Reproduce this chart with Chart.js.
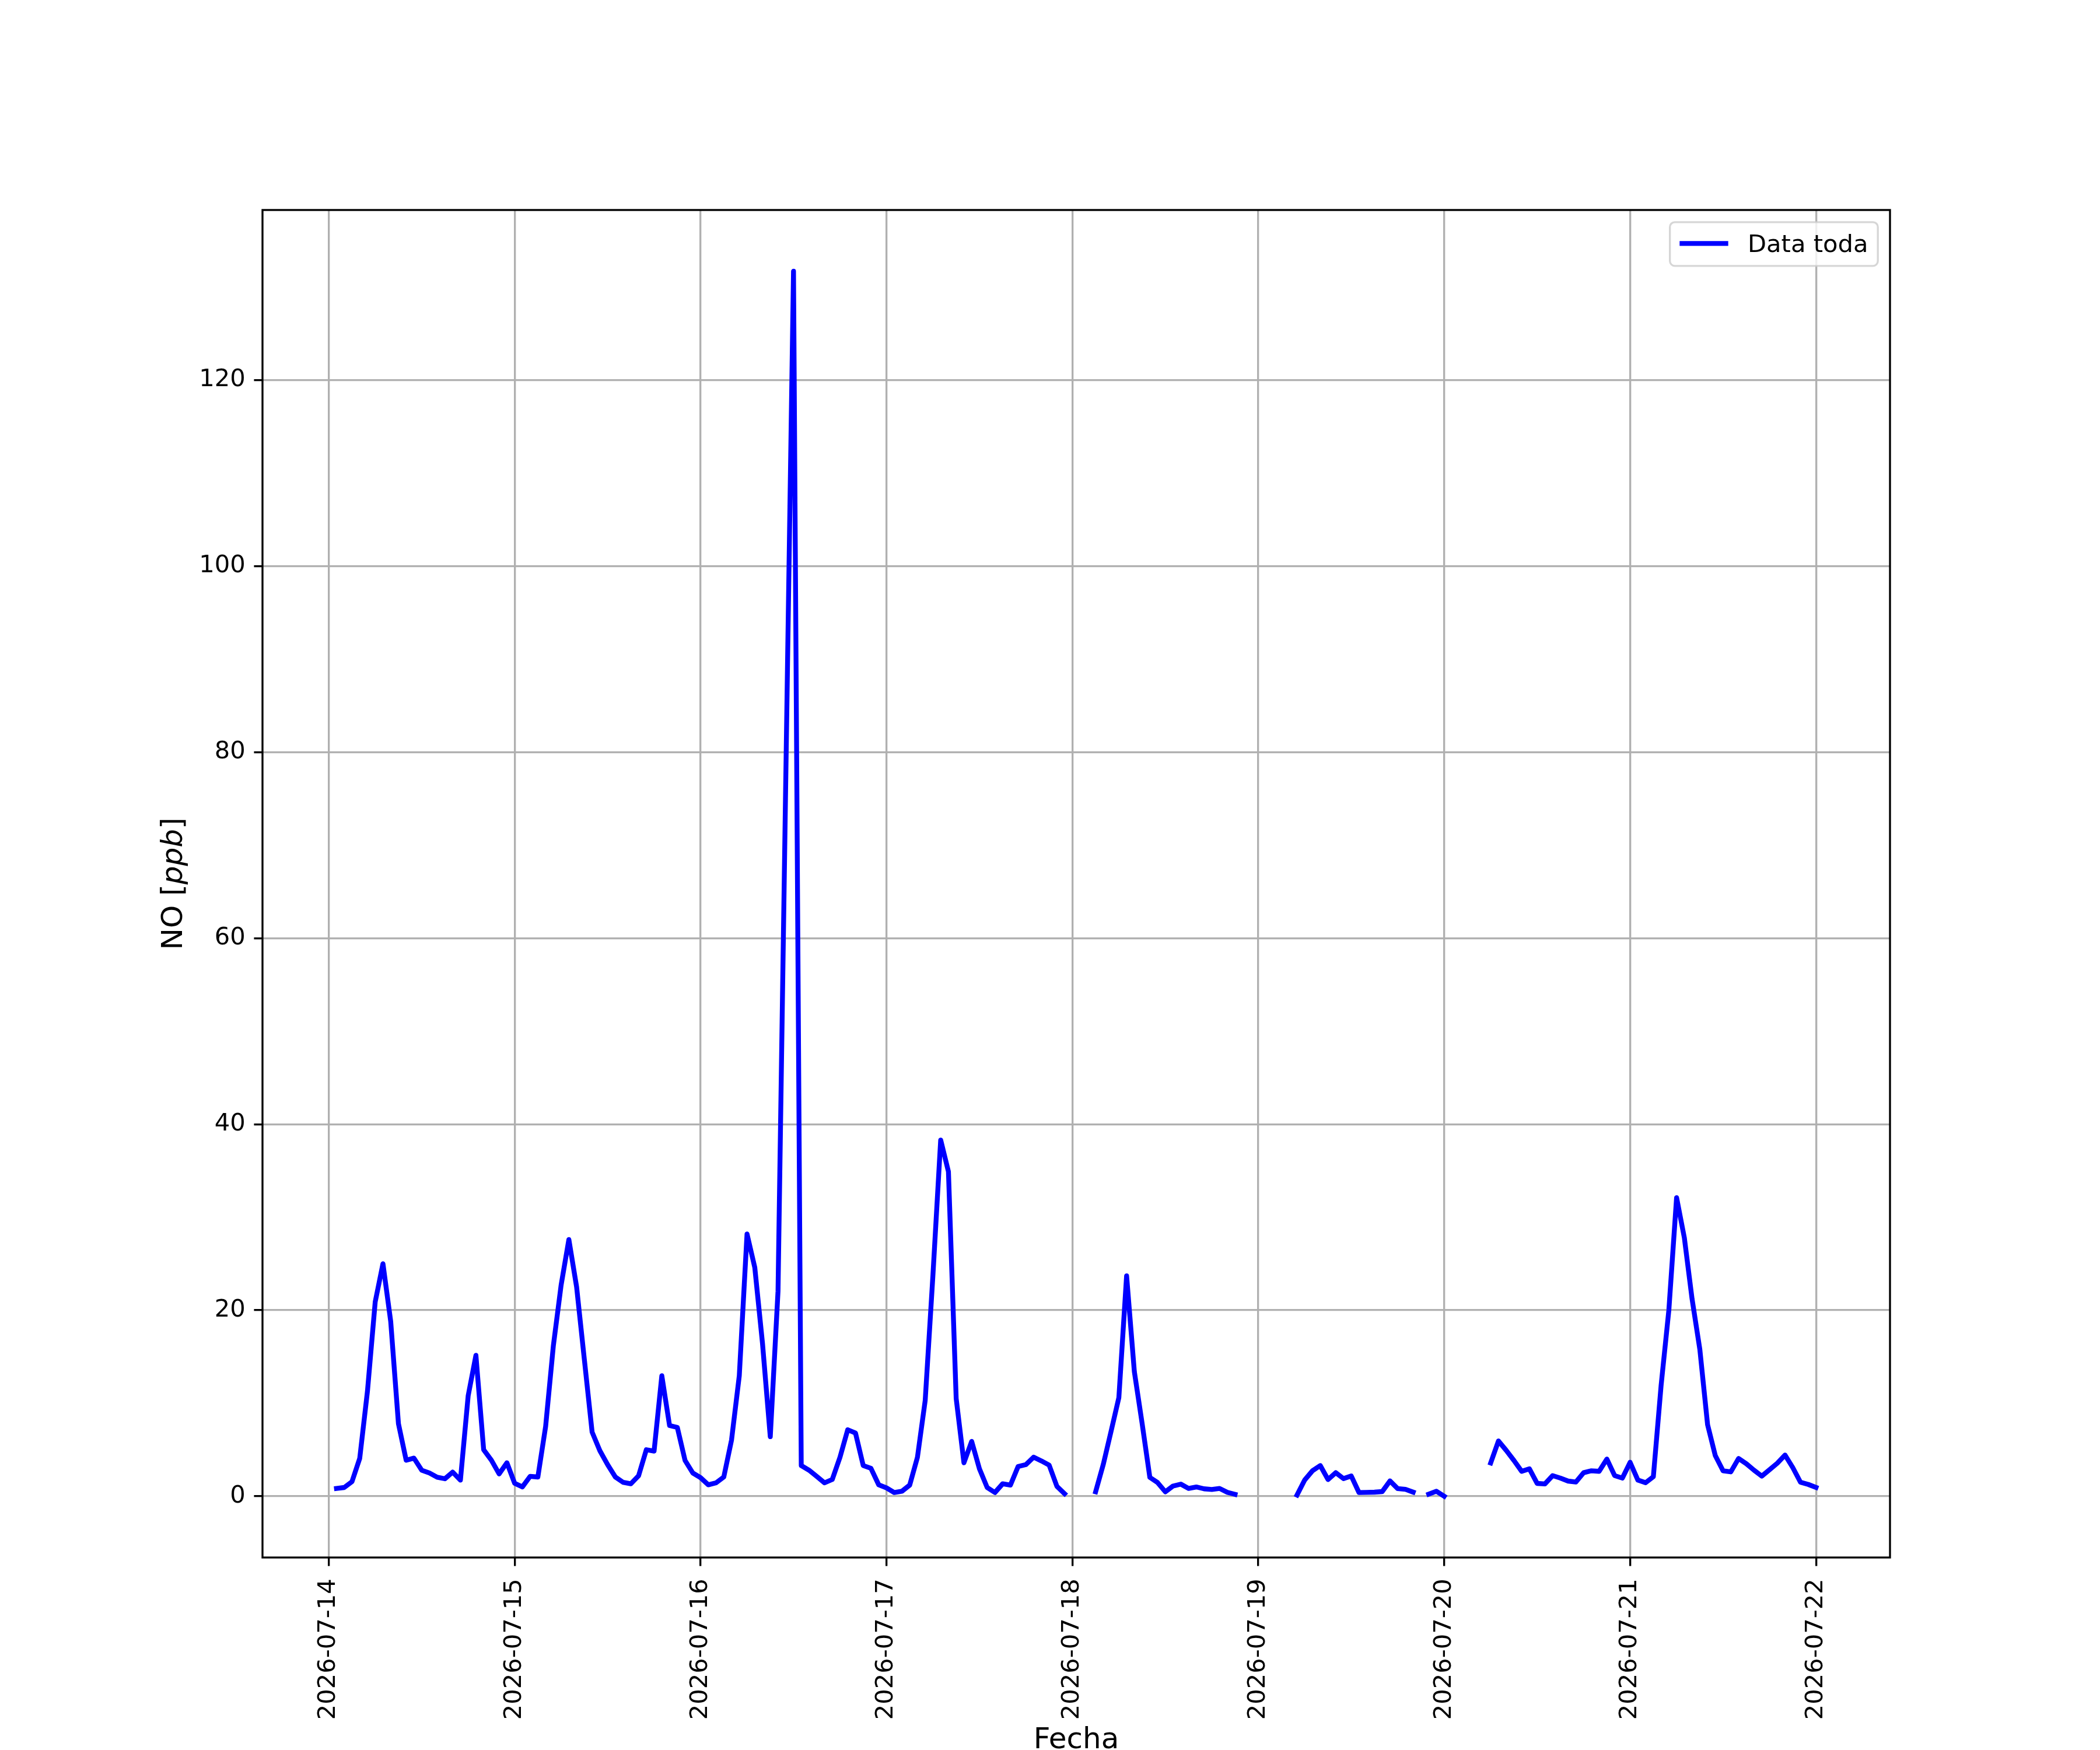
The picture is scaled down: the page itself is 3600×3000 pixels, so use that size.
<!DOCTYPE html>
<html>
<head>
<meta charset="utf-8">
<script src="https://cdn.jsdelivr.net/npm/chart.js@4.4.1/dist/chart.umd.min.js"></script>
<style>
  html, body { margin: 0; padding: 0; background: #ffffff; }
  canvas { display: block; }
</style>
</head>
<body>
<canvas id="chart" width="3600" height="3000" style="width:3600px;height:3000px"></canvas>
<script>
// ---------------- data ----------------
const dayLabels = ['2026-07-14', '2026-07-15', '2026-07-16', '2026-07-17', '2026-07-18',
                   '2026-07-19', '2026-07-20', '2026-07-21', '2026-07-22'];
const hoursPerDay = 24;
const firstHour = 1;            // first sample: 2026-07-14 01:00, hourly afterwards

// NO [ppb], hourly from 2026-07-14 01:00 to 2026-07-22 00:00 (null = missing)
const noDay14 = [0.84, 0.94, 1.57, 4.07, 11.3, 20.9, 25.0, 18.8, 7.8, 3.87, 4.1, 2.8,
                 2.5, 2.05, 1.88, 2.6, 1.73, 10.8, 15.15, 5.0, 3.87, 2.4, 3.6];
const noDay15 = [1.4, 1.0, 2.14, 2.07, 7.5, 16.2, 22.7, 27.6, 22.5, 14.7, 6.9, 4.9,
                 3.4, 2.07, 1.5, 1.34, 2.2, 5.0, 4.85, 12.95, 7.6, 7.4, 3.85, 2.5];
const noDay16 = [2.0, 1.23, 1.44, 2.07, 6.05, 12.95, 28.2, 24.6, 16.4, 6.4, 22.05, 77.0,
                 131.7, 3.3, 2.8, 2.13, 1.44, 1.8, 4.2, 7.15, 6.8, 3.3, 3.0, 1.23];
const noDay17 = [0.9, 0.4, 0.54, 1.2, 4.2, 10.3, 23.8, 38.3, 34.9, 10.5, 3.6, 5.9,
                 2.95, 0.94, 0.4, 1.34, 1.2, 3.2, 3.4, 4.2, 3.8, 3.35, 1.07, 0.27];
const noDay18 = [null, null, null, 0.48, 3.46, 7.0, 10.6, 23.7, 13.4, 7.85, 2.03, 1.47,
                 0.48, 1.1, 1.3, 0.84, 1.0, 0.8, 0.73, 0.84, 0.42, 0.2, null, null];
const noDay19 = [null, null, null, null, null, 0.13, 1.76, 2.74, 3.3, 1.8, 2.53, 1.9,
                 2.18, 0.4, 0.42, 0.44, 0.5, 1.65, 0.82, 0.75, 0.44, null, 0.23, 0.54];
const noDay20 = [0.0, null, null, null, null, null, 3.58, 5.94, 4.94, 3.85, 2.68, 2.95,
                 1.38, 1.32, 2.22, 1.95, 1.63, 1.53, 2.53, 2.74, 2.68, 4.0, 2.22, 1.95];
const noDay21 = [3.65, 1.74, 1.46, 2.1, 11.9, 20.0, 32.1, 27.8, 21.2, 15.8, 7.7, 4.36,
                 2.73, 2.62, 4.06, 3.5, 2.8, 2.16, 2.85, 3.55, 4.43, 3.08, 1.5, 1.27];
const noDay22 = [0.95];

const noPpb = [].concat(noDay14, noDay15, noDay16, noDay17, noDay18,
                        noDay19, noDay20, noDay21, noDay22);

const seriesLabel = 'Data toda';
const xTitle = 'Fecha';
const yTitleParts = [['NO [', false], ['ppb', true], [']', false]];
const yTickStep = 20;

// ---------------- derived (library input) ----------------
const points = noPpb.map((v, i) => ({ x: firstHour + i, y: v }));
const finiteX = points.filter(p => p.y !== null).map(p => p.x);
const finiteY = noPpb.filter(v => v !== null);
const xLo = Math.min(...finiteX), xHi = Math.max(...finiteX);
const yLo = Math.min(...finiteY), yHi = Math.max(...finiteY);
const xPad = (xHi - xLo) * 0.05, yPad = (yHi - yLo) * 0.05;

// ---------------- style ----------------
const PT = 300 / 72;           // px per point at 300 dpi
const FONT = "'DejaVu Sans', sans-serif";
const tickFont = 10 * PT;
const labelFont = 12 * PT;
const gridColor = '#b0b0b0';
const lineBlue = '#0000ff';

Chart.defaults.font.family = FONT;
Chart.defaults.color = '#000000';

const framePlugin = {
  id: 'frameLegendTitle',
  afterDatasetsDraw(chart) {
    const { ctx, chartArea: a } = chart;
    ctx.save();
    // axes frame (spines)
    ctx.strokeStyle = '#000000';
    ctx.lineWidth = 0.8 * PT;
    ctx.strokeRect(a.left, a.top, a.right - a.left, a.bottom - a.top);

    // legend (upper right, inside axes)
    const ds = chart.data.datasets[0];
    const fs = tickFont;
    ctx.font = fs + 'px ' + FONT;
    const textW = ctx.measureText(ds.label).width;
    const pad = 0.4 * fs, handle = 2.0 * fs, gap = 0.8 * fs;
    const boxW = pad + handle + gap + textW + pad;
    const boxH = 75;
    const bx = a.right - 0.5 * fs - boxW;
    const by = a.top + 0.5 * fs;
    const r = 0.2 * fs;
    ctx.beginPath();
    ctx.moveTo(bx + r, by);
    ctx.arcTo(bx + boxW, by, bx + boxW, by + boxH, r);
    ctx.arcTo(bx + boxW, by + boxH, bx, by + boxH, r);
    ctx.arcTo(bx, by + boxH, bx, by, r);
    ctx.arcTo(bx, by, bx + boxW, by, r);
    ctx.closePath();
    ctx.fillStyle = 'rgba(255,255,255,0.8)';
    ctx.fill();
    ctx.strokeStyle = 'rgba(204,204,204,0.8)';
    ctx.lineWidth = 0.8 * PT;
    ctx.stroke();
    const cy = by + boxH / 2;
    ctx.beginPath();
    ctx.moveTo(bx + pad, cy - 1);
    ctx.lineTo(bx + pad + handle, cy - 1);
    ctx.strokeStyle = ds.borderColor;
    ctx.lineWidth = ds.borderWidth;
    ctx.lineCap = 'butt';
    ctx.stroke();
    ctx.fillStyle = '#000000';
    ctx.textAlign = 'left';
    ctx.textBaseline = 'alphabetic';
    ctx.fillText(ds.label, bx + pad + handle + gap, cy + 14);
    ctx.restore();
  },
  afterDraw(chart) {
    const { ctx, chartArea: a } = chart;
    ctx.save();
    const fonts = yTitleParts.map(p => (p[1] ? 'italic ' : '') + labelFont + 'px ' + FONT);
    let total = 0;
    const widths = yTitleParts.map((p, i) => { ctx.font = fonts[i]; const w = ctx.measureText(p[0]).width; total += w; return w; });
    ctx.translate(312, (a.top + a.bottom) / 2);
    ctx.rotate(-Math.PI / 2);
    ctx.fillStyle = '#000000';
    ctx.textBaseline = 'alphabetic';
    ctx.textAlign = 'left';
    let x = -total / 2;
    yTitleParts.forEach((p, i) => { ctx.font = fonts[i]; ctx.fillText(p[0], x, 0); x += widths[i]; });
    ctx.restore();
  }
};

new Chart(document.getElementById('chart'), {
  type: 'line',
  data: {
    datasets: [{
      label: seriesLabel,
      data: points,
      borderColor: lineBlue,
      backgroundColor: lineBlue,
      borderWidth: 2 * PT,
      borderCapStyle: 'square',
      borderJoinStyle: 'round',
      pointRadius: 0,
      pointHoverRadius: 0,
      tension: 0,
      spanGaps: false,
      fill: false
    }]
  },
  options: {
    responsive: false,
    devicePixelRatio: 1,
    animation: false,
    events: [],
    layout: { padding: { left: 0, top: 360, right: 360, bottom: 0 } },
    plugins: {
      legend: { display: false },
      tooltip: { enabled: false },
      title: { display: false }
    },
    scales: {
      x: {
        type: 'linear',
        min: xLo - xPad,
        max: xHi + xPad,
        afterFit(s) { s.height = 330; },
        border: { display: false },
        grid: {
          color: gridColor,
          lineWidth: 0.8 * PT,
          drawTicks: true,
          tickLength: 3.5 * PT,
          tickColor: '#000000',
          tickWidth: 0.8 * PT
        },
        ticks: {
          stepSize: hoursPerDay,
          includeBounds: false,
          autoSkip: false,
          minRotation: 90,
          maxRotation: 90,
          padding: 3.5 * PT + 7,
          font: { size: tickFont, family: FONT },
          color: '#000000',
          callback: (v) => dayLabels[Math.round(v / hoursPerDay)] || ''
        },
        title: {
          display: true,
          text: xTitle,
          font: { size: labelFont, family: FONT, lineHeight: 0.64 },
          padding: { top: 0, bottom: 0 },
          color: '#000000'
        }
      },
      y: {
        type: 'linear',
        min: yLo - yPad,
        max: yHi + yPad,
        afterFit(s) { s.width = 450; },
        border: { display: false },
        grid: {
          color: gridColor,
          lineWidth: 0.8 * PT,
          drawTicks: true,
          tickLength: 3.5 * PT,
          tickColor: '#000000',
          tickWidth: 0.8 * PT
        },
        ticks: {
          stepSize: yTickStep,
          includeBounds: false,
          padding: 3.5 * PT,
          font: { size: tickFont, family: FONT },
          color: '#000000'
        },
        title: { display: false }
      }
    }
  },
  plugins: [framePlugin]
});
</script>
</body>
</html>
